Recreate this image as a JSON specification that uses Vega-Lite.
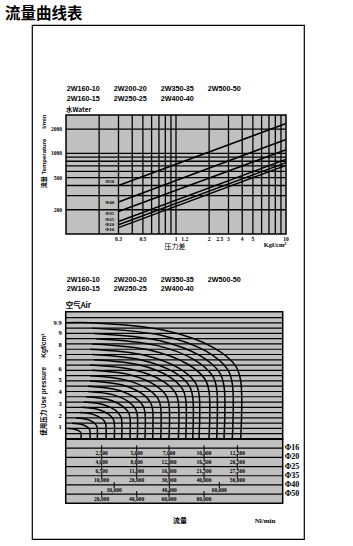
{
"$schema": "https://vega.github.io/schema/vega-lite/v6.json",
"width": 272, "height": 514,
"autosize": "none",
"padding": {"left": 32, "top": 25, "right": 49, "bottom": 7},
"background": "white",
"title": {"text": "流量曲线表", "anchor": "start", "frame": "group", "dx": -27, "offset": 3, "fontSize": 15.5, "font": "Noto Sans CJK SC", "fontWeight": "bold", "color": "black"},
"view": {"stroke": "black", "strokeWidth": 1.2, "fill": "white"},
"datasets": {
"models": [
{"m": "2W160-10", "col": 1, "row": 1}, {"m": "2W200-20", "col": 2, "row": 1}, {"m": "2W350-35", "col": 3, "row": 1}, {"m": "2W500-50", "col": 4, "row": 1},
{"m": "2W160-15", "col": 1, "row": 2}, {"m": "2W250-25", "col": 2, "row": 2}, {"m": "2W400-40", "col": 3, "row": 2}
],
"water": [
{"d": "Φ50", "x": 0.3, "q": 400}, {"d": "Φ50", "x": 10, "q": 2350},
{"d": "Φ40", "x": 0.3, "q": 250}, {"d": "Φ40", "x": 10, "q": 1490},
{"d": "Φ35", "x": 0.3, "q": 190}, {"d": "Φ35", "x": 10, "q": 1110},
{"d": "Φ25", "x": 0.3, "q": 143}, {"d": "Φ25", "x": 10, "q": 845},
{"d": "Φ20", "x": 0.3, "q": 130}, {"d": "Φ20", "x": 10, "q": 770},
{"d": "Φ16", "x": 0.3, "q": 120}, {"d": "Φ16", "x": 10, "q": 710}
],
"wlabels": [
{"d": "Φ50", "q": 460}, {"d": "Φ40", "q": 248}, {"d": "Φ35", "q": 183}, {"d": "Φ25", "q": 152}, {"d": "Φ20", "q": 132}, {"d": "Φ16", "q": 116}
],
"air": [
{"c":1,"i":0,"f":0,"p":9.9},{"c":1,"i":1,"f":1736,"p":9.9},{"c":1,"i":2,"f":7118,"p":9.24},{"c":1,"i":3,"f":10552,"p":7.79},{"c":1,"i":4,"f":12134,"p":6.23},{"c":1,"i":5,"f":12500,"p":4.95},{"c":1,"i":6,"f":12500,"p":0},
{"c":2,"i":1,"f":1879,"p":9.45},{"c":2,"i":2,"f":6890,"p":8.82},{"c":2,"i":3,"f":10086,"p":7.44},{"c":2,"i":4,"f":11559,"p":5.94},{"c":2,"i":5,"f":11900,"p":4.73},{"c":2,"i":6,"f":11900,"p":0},
{"c":3,"i":1,"f":2021,"p":9.0},{"c":3,"i":2,"f":6664,"p":8.4},{"c":3,"i":3,"f":9626,"p":7.08},{"c":3,"i":4,"f":10991,"p":5.66},{"c":3,"i":5,"f":11307,"p":4.5},{"c":3,"i":6,"f":11307,"p":0},
{"c":4,"i":1,"f":2164,"p":8.55},{"c":4,"i":2,"f":6475,"p":7.98},{"c":4,"i":3,"f":9225,"p":6.73},{"c":4,"i":4,"f":10493,"p":5.38},{"c":4,"i":5,"f":10786,"p":4.28},{"c":4,"i":6,"f":10786,"p":0},
{"c":5,"i":1,"f":1879,"p":8.1},{"c":5,"i":2,"f":6058,"p":7.56},{"c":5,"i":3,"f":8723,"p":6.37},{"c":5,"i":4,"f":9952,"p":5.09},{"c":5,"i":5,"f":10236,"p":4.05},{"c":5,"i":6,"f":10236,"p":0},
{"c":6,"i":1,"f":1736,"p":7.65},{"c":6,"i":2,"f":5629,"p":7.14},{"c":6,"i":3,"f":8113,"p":6.02},{"c":6,"i":4,"f":9257,"p":4.81},{"c":6,"i":5,"f":9522,"p":3.83},{"c":6,"i":6,"f":9522,"p":0},
{"c":7,"i":1,"f":1879,"p":7.2},{"c":7,"i":2,"f":5476,"p":6.72},{"c":7,"i":3,"f":7770,"p":5.67},{"c":7,"i":4,"f":8827,"p":4.53},{"c":7,"i":5,"f":9072,"p":3.6},{"c":7,"i":6,"f":9072,"p":0},
{"c":8,"i":1,"f":2021,"p":6.75},{"c":8,"i":2,"f":5297,"p":6.3},{"c":8,"i":3,"f":7386,"p":5.31},{"c":8,"i":4,"f":8349,"p":4.25},{"c":8,"i":5,"f":8572,"p":3.38},{"c":8,"i":6,"f":8572,"p":0},
{"c":9,"i":1,"f":1736,"p":6.3},{"c":9,"i":2,"f":4890,"p":5.88},{"c":9,"i":3,"f":6901,"p":4.96},{"c":9,"i":4,"f":7829,"p":3.96},{"c":9,"i":5,"f":8043,"p":3.15},{"c":9,"i":6,"f":8043,"p":0},
{"c":10,"i":1,"f":1879,"p":5.85},{"c":10,"i":2,"f":4629,"p":5.46},{"c":10,"i":3,"f":6384,"p":4.6},{"c":10,"i":4,"f":7192,"p":3.68},{"c":10,"i":5,"f":7379,"p":2.93},{"c":10,"i":6,"f":7379,"p":0},
{"c":11,"i":1,"f":1736,"p":5.4},{"c":11,"i":2,"f":4261,"p":5.04},{"c":11,"i":3,"f":5872,"p":4.25},{"c":11,"i":4,"f":6614,"p":3.4},{"c":11,"i":5,"f":6786,"p":2.7},{"c":11,"i":6,"f":6786,"p":0},
{"c":12,"i":1,"f":1736,"p":4.95},{"c":12,"i":2,"f":3975,"p":4.62},{"c":12,"i":3,"f":5403,"p":3.9},{"c":12,"i":4,"f":6062,"p":3.11},{"c":12,"i":5,"f":6214,"p":2.48},{"c":12,"i":6,"f":6214,"p":0},
{"c":13,"i":1,"f":1593,"p":4.5},{"c":13,"i":2,"f":3629,"p":4.2},{"c":13,"i":3,"f":4927,"p":3.54},{"c":13,"i":4,"f":5526,"p":2.83},{"c":13,"i":5,"f":5664,"p":2.25},{"c":13,"i":6,"f":5664,"p":0},
{"c":14,"i":1,"f":1593,"p":4.05},{"c":14,"i":2,"f":3354,"p":3.78},{"c":14,"i":3,"f":4477,"p":3.19},{"c":14,"i":4,"f":4994,"p":2.55},{"c":14,"i":5,"f":5114,"p":2.03},{"c":14,"i":6,"f":5114,"p":0},
{"c":15,"i":1,"f":1450,"p":3.6},{"c":15,"i":2,"f":3022,"p":3.36},{"c":15,"i":3,"f":4024,"p":2.83},{"c":15,"i":4,"f":4486,"p":2.26},{"c":15,"i":5,"f":4593,"p":1.8},{"c":15,"i":6,"f":4593,"p":0},
{"c":16,"i":1,"f":1307,"p":3.15},{"c":16,"i":2,"f":2654,"p":2.94},{"c":16,"i":3,"f":3513,"p":2.48},{"c":16,"i":4,"f":3908,"p":1.98},{"c":16,"i":5,"f":4000,"p":1.58},{"c":16,"i":6,"f":4000,"p":0},
{"c":17,"i":1,"f":1164,"p":2.7},{"c":17,"i":2,"f":2318,"p":2.52},{"c":17,"i":3,"f":3053,"p":2.12},{"c":17,"i":4,"f":3393,"p":1.7},{"c":17,"i":5,"f":3471,"p":1.35},{"c":17,"i":6,"f":3471,"p":0},
{"c":18,"i":1,"f":1021,"p":2.25},{"c":18,"i":2,"f":1950,"p":2.1},{"c":18,"i":3,"f":2543,"p":1.77},{"c":18,"i":4,"f":2816,"p":1.42},{"c":18,"i":5,"f":2879,"p":1.13},{"c":18,"i":6,"f":2879,"p":0},
{"c":19,"i":1,"f":736,"p":1.8},{"c":19,"i":2,"f":1497,"p":1.68},{"c":19,"i":3,"f":1982,"p":1.42},{"c":19,"i":4,"f":2205,"p":1.13},{"c":19,"i":5,"f":2257,"p":0.9},{"c":19,"i":6,"f":2257,"p":0},
{"c":20,"i":1,"f":450,"p":1.35},{"c":20,"i":2,"f":1093,"p":1.26},{"c":20,"i":3,"f":1503,"p":1.06},{"c":20,"i":4,"f":1692,"p":0.85},{"c":20,"i":5,"f":1736,"p":0.68},{"c":20,"i":6,"f":1736,"p":0},
{"c":21,"i":1,"f":164,"p":0.9},{"c":21,"i":2,"f":629,"p":0.84},{"c":21,"i":3,"f":925,"p":0.71},{"c":21,"i":4,"f":1061,"p":0.57},{"c":21,"i":5,"f":1093,"p":0.45},{"c":21,"i":6,"f":1093,"p":0}
],
"rows": [
{"r": 1, "s": "Φ16"}, {"r": 2, "s": "Φ20"}, {"r": 3, "s": "Φ25"}, {"r": 4, "s": "Φ35"}, {"r": 5, "s": "Φ40"}, {"r": 6, "s": "Φ50"}
],
"cells": [
{"r":1,"f":2570,"v":"2,500"},{"r":1,"f":5070,"v":"5,000"},{"r":1,"f":7380,"v":"7,000"},{"r":1,"f":9880,"v":"10,000"},{"r":1,"f":12260,"v":"12,500"},
{"r":2,"f":2570,"v":"4,000"},{"r":2,"f":5070,"v":"8,000"},{"r":2,"f":7380,"v":"12,000"},{"r":2,"f":9880,"v":"16,500"},{"r":2,"f":12260,"v":"20,500"},
{"r":3,"f":2570,"v":"6,500"},{"r":3,"f":5070,"v":"11,000"},{"r":3,"f":7380,"v":"16,000"},{"r":3,"f":9880,"v":"21,500"},{"r":3,"f":12260,"v":"27,500"},
{"r":4,"f":2570,"v":"10,000"},{"r":4,"f":5070,"v":"20,000"},{"r":4,"f":7380,"v":"30,000"},{"r":4,"f":9880,"v":"40,000"},{"r":4,"f":12260,"v":"50,000"},
{"r":5,"f":3460,"v":"30,000"},{"r":5,"f":7400,"v":"40,000"},{"r":5,"f":10970,"v":"60,000"},
{"r":6,"f":2570,"v":"20,000"},{"r":6,"f":5070,"v":"40,000"},{"r":6,"f":7380,"v":"60,000"},{"r":6,"f":9880,"v":"80,000"}
]
},
"resolve": {"scale": {"x": "independent", "y": "independent"}, "axis": {"x": "independent", "y": "independent"}},
"layer": [
{
"data": {"name": "models"},
"mark": {"type": "text", "align": "left", "baseline": "middle", "font": "Liberation Sans", "fontWeight": "bold", "fontSize": 7.2, "fill": "black"},
"encoding": {
"x": {"field": "col", "type": "quantitative", "scale": {"domain": [1, 4], "range": [34.7, 175.7], "zero": false, "nice": false}, "axis": null},
"y": {"field": "row", "type": "quantitative", "scale": {"domain": [1, 2], "range": [64, 74.3], "zero": false, "nice": false}, "axis": null},
"text": {"field": "m"}
}
},
{
"layer": [
{
"data": {"values": [{}]},
"mark": {"type": "rect", "fill": "#c0c0c0", "stroke": "black", "strokeWidth": 1.5},
"encoding": {
"x": {"datum": 0.1, "type": "quantitative", "scale": {"type": "log", "domain": [0.1, 10], "range": [34, 254], "nice": false}, "axis": null},
"x2": {"datum": 10},
"y": {"datum": 100, "type": "quantitative", "scale": {"type": "log", "domain": [100, 3000], "range": [209, 90], "nice": false}, "axis": null},
"y2": {"datum": 3000}
}
},
{
"data": {"values": [{"x":0.2},{"x":0.3},{"x":0.4},{"x":0.5},{"x":0.6},{"x":0.7},{"x":0.8},{"x":0.9},{"x":1},{"x":2},{"x":3},{"x":4},{"x":5},{"x":6},{"x":7},{"x":8},{"x":9}]},
"mark": {"type": "rule", "stroke": "black", "strokeWidth": 1.3},
"encoding": {
"x": {"field": "x", "type": "quantitative", "axis": null},
"y": {"datum": 100, "type": "quantitative", "axis": null},
"y2": {"datum": 3000}
}
},
{
"data": {"values": [{"q":200},{"q":300},{"q":400},{"q":500},{"q":600},{"q":700},{"q":800},{"q":900},{"q":1000},{"q":2000}]},
"mark": {"type": "rule", "stroke": "black", "strokeWidth": 1.3},
"encoding": {
"y": {"field": "q", "type": "quantitative", "axis": null},
"x": {"datum": 0.1, "type": "quantitative", "axis": null},
"x2": {"datum": 10}
}
},
{
"data": {"name": "water"},
"mark": {"type": "line", "stroke": "black", "strokeWidth": 1.5},
"encoding": {
"x": {"field": "x", "type": "quantitative", "axis": null},
"y": {"field": "q", "type": "quantitative", "axis": null},
"detail": {"field": "d"}
}
},
{
"data": {"name": "wlabels"},
"mark": {"type": "text", "font": "Liberation Serif", "fontWeight": "bold", "fontSize": 5, "fill": "black", "align": "center", "baseline": "middle"},
"encoding": {
"x": {"datum": 0.25, "type": "quantitative", "axis": null},
"y": {"field": "q", "type": "quantitative", "axis": null},
"text": {"field": "d"}
}
},
{
"data": {"values": [{"v":0.3},{"v":0.5},{"v":1},{"v":1.2},{"v":2},{"v":2.5},{"v":3},{"v":4},{"v":5},{"v":10}]},
"mark": {"type": "text", "align": "center", "baseline": "middle", "dy": 5, "font": "Liberation Serif", "fontWeight": "bold", "fontSize": 5.5, "fill": "black"},
"encoding": {
"x": {"field": "v", "type": "quantitative", "axis": null},
"y": {"datum": 100, "type": "quantitative", "axis": null},
"text": {"field": "v", "type": "quantitative", "format": "~g"}
}
},
{
"data": {"values": [{"v":200},{"v":500},{"v":1000},{"v":2000}]},
"mark": {"type": "text", "align": "right", "baseline": "middle", "dx": -4, "font": "Liberation Serif", "fontWeight": "bold", "fontSize": 5.5, "fill": "black"},
"encoding": {
"x": {"datum": 0.1, "type": "quantitative", "axis": null},
"y": {"field": "v", "type": "quantitative", "axis": null},
"text": {"field": "v", "type": "quantitative", "format": "d"}
}
},
{
"data": {"values": [{"t": "流量 Temperature\u00a0\u00a0\u00a0\u00a0\u00a0\u00a0l/min"}]},
"mark": {"type": "text", "angle": 270, "align": "center", "baseline": "middle", "font": "Liberation Sans, Noto Sans CJK SC", "fontWeight": "bold", "fontSize": 6, "fill": "black"},
"encoding": {
"x": {"datum": 0.0631, "type": "quantitative", "axis": null},
"y": {"datum": 1059, "type": "quantitative", "axis": null},
"text": {"field": "t"}
}
},
{
"data": {"values": [{"t": "压力差"}]},
"mark": {"type": "text", "align": "center", "baseline": "middle", "dy": 12.7, "font": "Noto Sans CJK SC", "fontSize": 7, "fill": "black"},
"encoding": {
"x": {"datum": 0.98, "type": "quantitative", "axis": null},
"y": {"datum": 100, "type": "quantitative", "axis": null},
"text": {"field": "t"}
}
},
{
"data": {"values": [{"t": "水Water"}]},
"mark": {"type": "text", "align": "left", "baseline": "middle", "font": "Noto Sans CJK SC", "fontWeight": "bold", "fontSize": 6.5, "fill": "black"},
"encoding": {
"x": {"datum": 0.1, "type": "quantitative", "axis": null},
"y": {"datum": 3420, "type": "quantitative", "axis": null},
"text": {"field": "t"}
}
},
{
"data": {"values": [{"t": "Kgf/cm²"}]},
"mark": {"type": "text", "align": "center", "baseline": "middle", "font": "Liberation Serif", "fontWeight": "bold", "fontSize": 6.5, "fill": "black"},
"encoding": {
"x": {"datum": 7.94, "type": "quantitative", "axis": null},
"y": {"datum": 72, "type": "quantitative", "axis": null},
"text": {"field": "t"}
}
}
]
},
{
"data": {"name": "models"},
"mark": {"type": "text", "align": "left", "baseline": "middle", "font": "Liberation Sans", "fontWeight": "bold", "fontSize": 7.2, "fill": "black"},
"encoding": {
"x": {"field": "col", "type": "quantitative", "scale": {"domain": [1, 4], "range": [34.7, 175.7], "zero": false, "nice": false}, "axis": null},
"y": {"field": "row", "type": "quantitative", "scale": {"domain": [1, 2], "range": [255, 264], "zero": false, "nice": false}, "axis": null},
"text": {"field": "m"}
}
},
{
"layer": [
{
"data": {"values": [{}]},
"mark": {"type": "rect", "fill": "#c0c0c0", "stroke": "black", "strokeWidth": 1.5},
"encoding": {
"x": {"datum": 0, "type": "quantitative", "scale": {"domain": [0, 15500], "range": [33.7, 250.7], "nice": false, "zero": false}, "axis": null},
"x2": {"datum": 15500},
"y": {"datum": 0, "type": "quantitative", "scale": {"domain": [0, 10.85], "range": [414, 286.7], "nice": false, "zero": false}, "axis": null},
"y2": {"datum": 10.85}
}
},
{
"data": {"values": [{"p":0.45},{"p":0.9},{"p":1.35},{"p":1.8},{"p":2.25},{"p":2.7},{"p":3.15},{"p":3.6},{"p":4.05},{"p":4.5},{"p":4.95},{"p":5.4},{"p":5.85},{"p":6.3},{"p":6.75},{"p":7.2},{"p":7.65},{"p":8.1},{"p":8.55},{"p":9.0},{"p":9.45},{"p":9.9},{"p":10.35}]},
"mark": {"type": "rule", "stroke": "black", "strokeWidth": 1.2},
"encoding": {
"y": {"field": "p", "type": "quantitative", "axis": null},
"x": {"datum": 0, "type": "quantitative", "axis": null},
"x2": {"datum": 15500}
}
},
{
"data": {"name": "air"},
"mark": {"type": "line", "interpolate": "catmull-rom", "stroke": "black", "strokeWidth": 1.5},
"encoding": {
"x": {"field": "f", "type": "quantitative", "axis": null},
"y": {"field": "p", "type": "quantitative", "axis": null},
"detail": {"field": "c"},
"order": {"field": "i"}
}
},
{
"data": {"values": [{"v":1},{"v":2},{"v":3},{"v":4},{"v":5},{"v":6},{"v":7},{"v":8},{"v":9},{"v":9.9}]},
"mark": {"type": "text", "align": "right", "baseline": "middle", "dx": -4, "font": "Liberation Serif", "fontWeight": "bold", "fontSize": 6.5, "fill": "black"},
"encoding": {
"x": {"datum": 0, "type": "quantitative", "axis": null},
"y": {"field": "v", "type": "quantitative", "axis": null},
"text": {"field": "v", "type": "quantitative", "format": "~g"}
}
},
{
"data": {"values": [{"t": "使用压力 Use pressure\u00a0\u00a0\u00a0\u00a0\u00a0Kgf/cm²"}]},
"mark": {"type": "text", "angle": 270, "align": "center", "baseline": "middle", "font": "Liberation Sans, Noto Sans CJK SC", "fontWeight": "bold", "fontSize": 6.5, "fill": "black"},
"encoding": {
"x": {"datum": -1550, "type": "quantitative", "axis": null},
"y": {"datum": 4.63, "type": "quantitative", "axis": null},
"text": {"field": "t"}
}
},
{
"data": {"values": [{"t": "空气Air"}]},
"mark": {"type": "text", "align": "left", "baseline": "middle", "font": "Noto Sans CJK SC", "fontWeight": "bold", "fontSize": 7.5, "fill": "black"},
"encoding": {
"x": {"datum": 0, "type": "quantitative", "axis": null},
"y": {"datum": 11.35, "type": "quantitative", "axis": null},
"text": {"field": "t"}
}
}
]
},
{
"layer": [
{
"data": {"values": [{}]},
"mark": {"type": "rect", "fill": "#c0c0c0", "stroke": "black", "strokeWidth": 1.5},
"encoding": {
"x": {"datum": 0, "type": "quantitative", "scale": {"domain": [0, 15500], "range": [33.7, 250.7], "nice": false, "zero": false}, "axis": null},
"x2": {"datum": 15500},
"y": {"datum": 0, "type": "quantitative", "scale": {"domain": [0, 7], "range": [414, 478.3], "nice": false, "zero": false}, "axis": null},
"y2": {"datum": 7}
}
},
{
"data": {"values": [{}]},
"mark": {"type": "rule", "stroke": "black", "strokeWidth": 2},
"encoding": {
"y": {"datum": 0, "type": "quantitative", "axis": null},
"x": {"datum": 0, "type": "quantitative", "axis": null},
"x2": {"datum": 15500}
}
},
{
"data": {"name": "rows"},
"mark": {"type": "rule", "stroke": "black", "strokeWidth": 1.2},
"encoding": {
"y": {"field": "r", "type": "quantitative", "axis": null},
"x": {"datum": 0, "type": "quantitative", "axis": null},
"x2": {"datum": 15500}
}
},
{
"data": {"name": "cells"},
"mark": {"type": "tick", "orient": "vertical", "size": 6, "thickness": 1, "color": "black", "opacity": 1},
"encoding": {
"x": {"field": "f", "type": "quantitative", "axis": null},
"y": {"field": "r", "type": "quantitative", "axis": null}
}
},
{
"data": {"name": "cells"},
"mark": {"type": "text", "dy": 4.6, "align": "center", "baseline": "middle", "font": "Liberation Serif", "fontWeight": "bold", "fontSize": 5.5, "fill": "black"},
"encoding": {
"x": {"field": "f", "type": "quantitative", "axis": null},
"y": {"field": "r", "type": "quantitative", "axis": null},
"text": {"field": "v"}
}
},
{
"data": {"name": "rows"},
"mark": {"type": "text", "dx": 2, "align": "left", "baseline": "middle", "font": "Liberation Serif", "fontWeight": "bold", "fontSize": 8, "fill": "black"},
"encoding": {
"x": {"datum": 15500, "type": "quantitative", "axis": null},
"y": {"field": "r", "type": "quantitative", "axis": null},
"text": {"field": "s"}
}
},
{
"data": {"values": [{"t": "流量"}]},
"mark": {"type": "text", "dy": 17.7, "align": "center", "baseline": "middle", "font": "Noto Sans CJK SC", "fontWeight": "bold", "fontSize": 7, "fill": "black"},
"encoding": {
"x": {"datum": 8160, "type": "quantitative", "axis": null},
"y": {"datum": 7, "type": "quantitative", "axis": null},
"text": {"field": "t"}
}
},
{
"data": {"values": [{"t": "Nl/min"}]},
"mark": {"type": "text", "dy": 17.7, "align": "center", "baseline": "middle", "font": "Liberation Serif", "fontWeight": "bold", "fontSize": 7, "fill": "black"},
"encoding": {
"x": {"datum": 14240, "type": "quantitative", "axis": null},
"y": {"datum": 7, "type": "quantitative", "axis": null},
"text": {"field": "t"}
}
}
]
}
]
}
